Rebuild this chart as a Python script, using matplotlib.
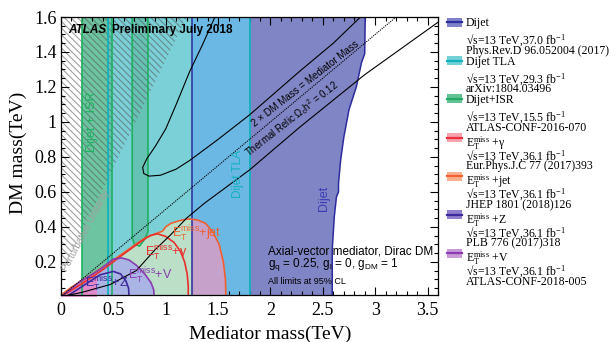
import numpy as np
import matplotlib
matplotlib.use('Agg')
import matplotlib.pyplot as plt
from matplotlib.patches import Polygon, Rectangle
from matplotlib.lines import Line2D
import matplotlib.ticker as mticker

plt.rcParams['mathtext.fontset'] = 'custom'
plt.rcParams['mathtext.rm'] = 'Liberation Serif'
plt.rcParams['mathtext.it'] = 'Liberation Serif:italic'
plt.rcParams['mathtext.bf'] = 'Liberation Serif:bold'
plt.rcParams['mathtext.sf'] = 'Liberation Sans'
plt.rcParams['hatch.linewidth'] = 0.75

# ------------------------------------------------------------------ data
X_LIM = [0.0, 3.6]
Y_LIM = [0.01, 1.6]
x_ticks = [0, 0.5, 1, 1.5, 2, 2.5, 3, 3.5]
y_ticks = [0.2, 0.4, 0.6, 0.8, 1.0, 1.2, 1.4, 1.6]

# Dijet exclusion: left edge and right boundary (bottom -> top)
dijet_left = 1.25
dijet_edge_m = [0.0, 0.10, 0.27, 0.46, 0.57, 0.60, 0.65, 0.78, 0.91, 1.07, 1.20, 1.34, 1.39, 1.60]
dijet_edge_M = [2.59, 2.59, 2.59, 2.61, 2.63, 2.65, 2.65, 2.67, 2.70, 2.75, 2.82, 2.87, 2.90, 2.905]
# Dijet TLA exclusion
tla_range = [0.445, 1.80]
# Dijet+ISR exclusions
isr1_range = [0.197, 0.485]
isr2_M = [0.68, 0.68, 0.70, 0.75, 0.80, 0.83, 0.83]
isr2_m = [1.60, 0.34, 0.30, 0.29, 0.33, 0.37, 1.60]
# Perturbative unitarity boundary
unit_M = [0.0, 1.20]
unit_m = [0.125, 1.60]
# MET + jet
jet_M = [0.0, 0.10, 0.30, 0.50, 0.69, 0.80, 0.90, 0.97, 1.00, 1.05, 1.13, 1.21, 1.30, 1.38, 1.45, 1.51, 1.55, 1.57, 1.575]
jet_m = [0.01, 0.055, 0.13, 0.21, 0.29, 0.335, 0.36, 0.375, 0.40, 0.42, 0.435, 0.445, 0.44, 0.42, 0.37, 0.30, 0.20, 0.10, 0.0]
# MET + photon
gam_M = [0.0, 0.20, 0.40, 0.60, 0.75, 0.85, 0.92, 1.00, 1.08, 1.14, 1.18, 1.205, 1.215, 1.215]
gam_m = [0.0, 0.075, 0.155, 0.245, 0.31, 0.35, 0.36, 0.345, 0.31, 0.26, 0.20, 0.13, 0.06, 0.0]
# MET + V
V_M = [0.0, 0.18, 0.37, 0.50, 0.58, 0.65, 0.72, 0.80, 0.86, 0.885, 0.89]
V_m = [0.0, 0.085, 0.155, 0.215, 0.222, 0.21, 0.18, 0.13, 0.08, 0.04, 0.0]
V_pink_max = 0.34
# MET + Z
Z_M = [0.05, 0.23, 0.37, 0.50, 0.57, 0.62, 0.645, 0.65]
Z_m = [0.0, 0.07, 0.125, 0.145, 0.13, 0.09, 0.05, 0.0]
# Thermal relic curves
relic_M = [0.0, 0.20, 0.47, 0.72, 0.90, 1.04, 1.20, 1.37, 1.80, 2.28, 2.90, 3.60]
relic_m = [0.0, 0.025, 0.07, 0.15, 0.27, 0.35, 0.45, 0.535, 0.725, 0.97, 1.27, 1.57]
tongue_M = [1.47, 1.35, 1.23, 1.10, 1.00, 0.90, 0.82, 0.78, 0.79, 0.84, 0.95, 1.10, 1.23, 1.50, 1.80, 2.28, 2.60, 2.86]
tongue_m = [1.60, 1.44, 1.29, 1.10, 0.96, 0.86, 0.79, 0.74, 0.705, 0.69, 0.695, 0.73, 0.78, 0.90, 1.04, 1.29, 1.45, 1.60]
diag_M = np.array([0.0, 3.2])

# legend
leg_names = ['Dijet', 'Dijet TLA', 'Dijet+ISR',
             r'$\mathrm{E_{T}^{miss}}$ +γ', r'$\mathrm{E_{T}^{miss}}$ +jet',
             r'$\mathrm{E_{T}^{miss}}$ +Z', r'$\mathrm{E_{T}^{miss}}$ +V']
leg_lumi = ['37.0', '29.3', '15.5', '36.1', '36.1', '36.1', '36.1']
leg_refs = ['Phys.Rev.D 96.052004 (2017)', 'arXiv:1804.03496', 'ATLAS-CONF-2016-070',
            'Eur.Phys.J.C 77 (2017)393', 'JHEP 1801 (2018)126', 'PLB 776 (2017)318',
            'ATLAS-CONF-2018-005']
leg_fill = ['#7f82c8', '#72cfd6', '#62c293', '#f6a3ad', '#f9b08e', '#8f7fcc', '#c89ad6']
leg_line = ['#2c2c9c', '#10b2bc', '#22aa66', '#ec3040', '#f06030', '#3e2a9a', '#8a3cb0']

# colours
c_isr = '#6dc4a0'
c_tla = '#7ad0d6'
c_isr_tla = '#66c2b4'
c_dijet = '#8085c5'
c_dijet_tla = '#6cb8e5'
c_met = '#bcdfc8'
c_met_dijet = '#c6a2ca'
c_V = '#aab5e6'
c_pink = '#e08acc'

col_dijet = '#2c2c9c'
col_tla = '#10b2bc'
col_isr = '#1fb060'
col_jet = '#f06030'
col_gam = '#e8302c'
col_V = '#8a3cb0'
col_Z = '#3e2a9a'

# ------------------------------------------------------------------ figure
fig = plt.figure(figsize=(6.16, 3.42), dpi=100)
ax = fig.add_axes([61 / 616, 47 / 342, 377 / 616, 278 / 342])
ax.set_xlim(X_LIM)
ax.set_ylim(Y_LIM)


def add_poly(Ms, ms, **kw):
    p = Polygon(np.column_stack([Ms, ms]), closed=True, **kw)
    ax.add_patch(p)
    return p


ytop = Y_LIM[1]
# Dijet region
dj_M = [dijet_left, dijet_left] + dijet_edge_M[::-1]
dj_m = [0.0, ytop] + dijet_edge_m[::-1]
dijet_poly = add_poly(dj_M, dj_m, facecolor=c_dijet, edgecolor='none', zorder=1)
# TLA
tla_M = [tla_range[0], tla_range[0], tla_range[1], tla_range[1]]
tla_m = [0.0, ytop, ytop, 0.0]
tla_poly = add_poly(tla_M, tla_m, facecolor=c_tla, edgecolor='none', zorder=1)
ov = add_poly(tla_M, tla_m, facecolor=c_dijet_tla, edgecolor='none', zorder=1.1)
ov.set_clip_path(dijet_poly)
# ISR
isr1_M = [isr1_range[0], isr1_range[0], isr1_range[1], isr1_range[1]]
isr1_m = [0.0, ytop, ytop, 0.0]
for Ms, ms in [(isr1_M, isr1_m), (isr2_M, isr2_m)]:
    add_poly(Ms, ms, facecolor=c_isr, edgecolor='none', zorder=1.2)
    o = add_poly(Ms, ms, facecolor=c_isr_tla, edgecolor='none', zorder=1.3)
    o.set_clip_path(tla_poly)

# perturbative unitarity hatch
add_poly([unit_M[0], unit_M[1], 0.0], [unit_m[0], unit_m[1], ytop],
         facecolor='none', edgecolor='#5a5a5a', hatch='\\\\\\\\\\', linewidth=0,
         alpha=0.6, zorder=1.5)

# MET fills
add_poly(jet_M, jet_m, facecolor=c_met, edgecolor='none', zorder=2)
add_poly(gam_M, gam_m, facecolor=c_met, edgecolor='none', zorder=2)
jm = add_poly(jet_M, jet_m, facecolor=c_met_dijet, edgecolor='none', zorder=2.05)
jm.set_clip_path(dijet_poly)
add_poly(V_M, V_m, facecolor=c_V, edgecolor='none', zorder=2.1)
pk = add_poly(V_M, V_m, facecolor=c_pink, edgecolor='none', zorder=2.15)
clip_rect = Rectangle((0, 0), V_pink_max, ytop, transform=ax.transData)
pk.set_clip_path(clip_rect)

# contour lines
ax.plot([dijet_left, dijet_left], [0, ytop], color=col_dijet, lw=1.1, zorder=3)
ax.plot(dijet_edge_M, dijet_edge_m, color=col_dijet, lw=1.1, zorder=3)
for v in tla_range:
    ax.plot([v, v], [0, ytop], color=col_tla, lw=1.3, zorder=3)
for v in isr1_range:
    ax.plot([v, v], [0, ytop], color=col_isr, lw=1.2, zorder=3)
ax.plot(isr2_M, isr2_m, color=col_isr, lw=1.2, zorder=3)
ax.plot(jet_M, jet_m, color=col_jet, lw=1.2, zorder=3.2)
ax.plot(gam_M, gam_m, color=col_gam, lw=1.2, zorder=3.2)
ax.plot(V_M, V_m, color=col_V, lw=1.2, zorder=3.2)
ax.plot(Z_M, Z_m, color=col_Z, lw=1.2, zorder=3.2)

# theory lines
ax.plot(relic_M, relic_m, color='black', lw=0.8, zorder=4)
ax.plot(tongue_M, tongue_m, color='black', lw=0.8, zorder=4)
ax.plot(diag_M, diag_M / 2, color='black', lw=0.8, ls=(0, (1, 1)), zorder=4)

# axes style
ax.set_xticks(x_ticks)
ax.set_yticks(y_ticks)
ax.xaxis.set_major_formatter(mticker.FormatStrFormatter('%g'))
ax.yaxis.set_major_formatter(mticker.FormatStrFormatter('%g'))
ax.xaxis.set_minor_locator(mticker.MultipleLocator(0.1))
ax.yaxis.set_minor_locator(mticker.MultipleLocator(0.05))
ax.tick_params(which='both', direction='in', top=True, right=True, width=0.8)
ax.tick_params(which='major', length=6)
ax.tick_params(which='minor', length=3)
ax.tick_params(axis='x', which='major', pad=5, labelsize=13)
ax.tick_params(axis='y', which='major', pad=3, labelsize=13)
for lab in ax.get_xticklabels() + ax.get_yticklabels():
    lab.set_family('Liberation Serif')
for s in ax.spines.values():
    s.set_linewidth(0.9)
    s.set_zorder(6)

ax.set_xlabel('Mediator mass(TeV)', family='Liberation Serif', fontsize=14)
ax.xaxis.label.set_va('center')
ax.xaxis.set_label_coords(0.554, -0.14)
ax.set_ylabel('DM mass(TeV)', family='Liberation Serif', fontsize=14)
ax.yaxis.label.set_va('center')
ax.yaxis.set_label_coords(-0.114, 0.51)

sans = 'Liberation Sans'
# in-plot texts
ax.text(0.067, 1.51, 'ATLAS', family=sans, fontsize=8.5, fontweight='bold',
        fontstyle='italic', va='baseline', zorder=7)
ax.text(0.487, 1.51, 'Preliminary July 2018', family=sans, fontsize=8.5,
        fontweight='bold', va='baseline', zorder=7)
ax.text(0.296, 1.0, 'Dijet + ISR', family=sans, fontsize=9, color=col_isr,
        rotation=90, ha='center', va='center', zorder=7)
ax.text(1.69, 0.70, 'Dijet TLA', family=sans, fontsize=8.5, color=col_tla,
        rotation=90, ha='center', va='center', zorder=7)
ax.text(2.51, 0.56, 'Dijet', family=sans, fontsize=9, color='#3c3cb4',
        rotation=90, ha='center', va='center', zorder=7)
ax.text(0.239, 0.38, 'Perturbative Unitarity', family=sans, fontsize=7,
        color='#a0a0a0', rotation=62, ha='center', va='center', zorder=7)
ax.text(2.36, 1.195, '2 × DM Mass = Mediator Mass', family=sans, fontsize=7,
        rotation=38, rotation_mode='anchor', ha='center', va='bottom', zorder=7)
ax.text(2.25, 0.985, 'Thermal Relic Ω$_\\mathsf{c}$h$^\\mathsf{2}$ = 0.12', family=sans,
        fontsize=7, rotation=38, rotation_mode='anchor', ha='center', va='bottom', zorder=7)
ax.text(1.977, 0.239, 'Axial-vector mediator, Dirac DM', family=sans, fontsize=8.5,
        va='baseline', zorder=7)
ax.text(1.977, 0.17, r'$\mathsf{g_{q}}$ = 0.25, $\mathsf{g_{l}}$ = 0, $\mathsf{g_{DM}}$ = 1',
        family=sans, fontsize=8.5, va='baseline', zorder=7)
ax.text(1.977, 0.073, 'All limits at 95% CL', family=sans, fontsize=6.5,
        va='baseline', zorder=7)

emiss = r'$\mathsf{E_{T}^{miss}}$'
ax.text(1.06, 0.336, emiss + '+jet', family=sans, fontsize=9, color=col_jet,
        va='baseline', zorder=7)
ax.text(0.80, 0.227, emiss + '+γ', family=sans, fontsize=9, color=col_gam,
        va='baseline', zorder=7)
ax.text(0.64, 0.096, emiss + '+V', family=sans, fontsize=9, color=col_V,
        va='baseline', zorder=7)
ax.text(0.23, 0.05, emiss + '+Z', family=sans, fontsize=9, color=col_Z,
        va='baseline', zorder=7)

# legend (manual, figure pixel layout)
W, H = 616, 342
serif = ['Liberation Serif', 'DejaVu Serif']
for i, name in enumerate(leg_names):
    yc = 22 + i * 38.5
    fig.add_artist(Rectangle((447 / W, 1 - (yc + 4.5) / H), 15 / W, 9 / H,
                             transform=fig.transFigure, facecolor=leg_fill[i],
                             edgecolor='none'))
    fig.add_artist(Line2D([447 / W, 462 / W], [1 - yc / H, 1 - yc / H],
                          transform=fig.transFigure, color=leg_line[i], lw=1.6))
    nb = yc + (9 if name.startswith('$') else 4)
    fig.text(466 / W, 1 - nb / H, name, family=serif, fontsize=8.5, va='baseline')
    fig.text(466 / W, 1 - (yc + 22) / H, '√s=13 TeV,' + leg_lumi[i] + ' fb$^{-1}$',
             family=serif, fontsize=8.5, va='baseline')
    fig.text(466 / W, 1 - (yc + 32) / H, leg_refs[i], family=serif, fontsize=8.5,
             va='baseline')

fig.savefig('out.png', dpi=100)
